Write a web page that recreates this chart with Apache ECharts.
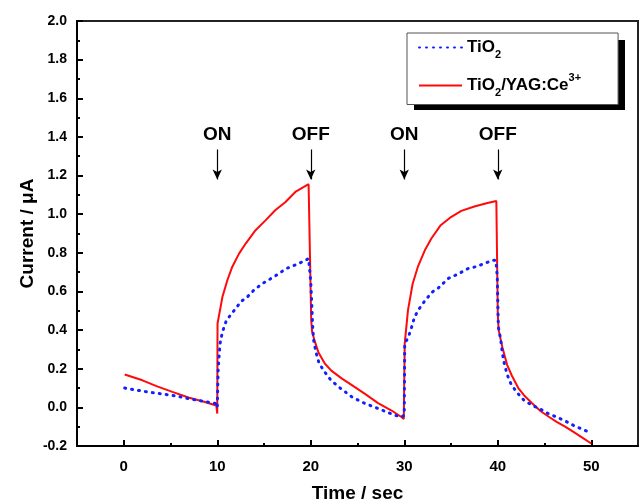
<!DOCTYPE html>
<html>
<head>
<meta charset="utf-8">
<script src="https://cdn.jsdelivr.net/npm/echarts@6/dist/echarts.min.js"></script>
<style>
  html, body { margin: 0; padding: 0; background: #fff; }
  #chart { width: 641px; height: 504px; }
</style>
</head>
<body>
<div id="chart"></div>
<script>
// TiO2 (blue dotted)
const timeTiO2 = [0.1, 2.5, 5.2, 7.5, 9.85, 10.0,
  10.1, 10.3, 10.55, 10.98, 11.6, 12.57, 13.2, 13.9, 14.8, 16.2, 17.36, 18.7, 19.77, 19.85,
  20.0, 20.1, 20.2, 20.3, 20.55, 20.9, 21.5, 22.1, 22.9, 24.4, 25.8, 27.2, 29.0, 29.7, 30.0,
  30.05, 30.4, 30.7, 31.1, 31.6, 32.3, 33.0, 33.65, 34.7, 35.7, 36.8, 37.8, 38.7, 39.4, 39.8,
  39.95, 40.06, 40.3, 40.5, 40.7, 41.0, 41.4, 42.0, 42.8, 43.7, 44.6, 45.5, 46.3, 47.2, 48.1, 48.9, 49.7];
const curTiO2 = [0.10, 0.08, 0.062, 0.04, 0.02, 0.0,
  0.2, 0.33, 0.39, 0.45, 0.489, 0.549, 0.571, 0.606, 0.64, 0.68, 0.718, 0.744, 0.77, 0.77,
  0.65, 0.546, 0.425, 0.35, 0.287, 0.227, 0.183, 0.144, 0.109, 0.054, 0.02, -0.006, -0.041, -0.05, -0.04,
  0.33, 0.36, 0.40, 0.468, 0.511, 0.558, 0.597, 0.618, 0.667, 0.689, 0.718, 0.73, 0.747, 0.761, 0.761,
  0.675, 0.416, 0.356, 0.278, 0.227, 0.17, 0.123, 0.08, 0.037, 0.01, -0.01, -0.035, -0.05, -0.07, -0.093, -0.11, -0.127];

// TiO2/YAG:Ce3+ (red solid)
const timeYag = [0.1, 2, 3.5, 5.2, 7, 8.5, 9.9, 10.0,
  10.03, 10.55, 11.08, 11.6, 12.33, 13.04, 14.1, 15.16, 16.2, 17.3, 18.35, 19.77, 19.9,
  20.05, 20.15, 20.4, 20.8, 21.5, 22.2, 23.3, 24.4, 25.8, 27.2, 28.6, 29.7, 29.95,
  30.05, 30.4, 30.9, 31.45, 32.2, 32.9, 33.9, 35.0, 36.1, 37.5, 38.9, 39.85,
  40.0, 40.1, 40.5, 41.0, 41.5, 42.2, 42.8, 43.7, 44.6, 45.5, 46.3, 47.2, 48.1, 49.0, 50.0];
const curYag = [0.17, 0.14, 0.11, 0.08, 0.05, 0.03, 0.01, -0.032,
  0.434, 0.571, 0.658, 0.727, 0.796, 0.848, 0.917, 0.968, 1.02, 1.063, 1.115, 1.155, 1.16,
  0.45, 0.39, 0.347, 0.287, 0.227, 0.19, 0.15, 0.115, 0.07, 0.022, -0.015, -0.05, -0.06,
  0.33, 0.503, 0.64, 0.727, 0.813, 0.874, 0.943, 0.985, 1.017, 1.04, 1.058, 1.068,
  0.486, 0.40, 0.31, 0.22, 0.165, 0.10, 0.063, 0.02, -0.02, -0.05, -0.075, -0.10, -0.127, -0.155, -0.187];

// ON / OFF arrows
const switchTimes = [10, 20, 30, 40];
const switchLabels = ['ON', 'OFF', 'ON', 'OFF'];
const arrowTop = 1.335;
const arrowTip = 1.18;

const xMajorTicks = [0, 10, 20, 30, 40, 50];
const xMinorTicks = [5, 15, 25, 35, 45];

function pairs(xs, ys) {
  return xs.map((x, i) => [x, ys[i]]);
}

const chart = echarts.init(document.getElementById('chart'));

const fontFamily = '"Liberation Sans", Arial, sans-serif';

const option = {
  backgroundColor: '#fff',
  animation: false,
  textStyle: { fontFamily: fontFamily },
  grid: {
    left: 77, top: 21, right: 3, bottom: 58,
    outerBoundsMode: 'none',
    show: true, borderColor: '#222', borderWidth: 2
  },
  // legend drop shadow
  graphic: [{
    type: 'rect', left: 414, top: 40, z: 1,
    shape: { width: 211, height: 70 },
    style: { fill: '#000' }
  }],
  legend: {
    orient: 'vertical',
    left: 407, top: 33, z: 5,
    padding: [6, 37, 6, 11],
    itemWidth: 43, itemHeight: 14, itemGap: 12,
    backgroundColor: '#fff',
    borderColor: '#555', borderWidth: 1, borderRadius: 0,
    itemStyle: { opacity: 0 },
    lineStyle: { opacity: 1 },
    data: ['TiO2', 'TiO2/YAG:Ce3+'],
    formatter: function (name) {
      if (name === 'TiO2') return '{b|TiO}{sub|2}';
      return '{b|TiO}{sub|2}{b|/YAG:Ce}{sup|3+}';
    },
    textStyle: {
      rich: {
        b: { fontSize: 17, fontWeight: 'bold', color: '#000', fontFamily: fontFamily, lineHeight: 26, verticalAlign: 'middle' },
        sub: { fontSize: 11, fontWeight: 'bold', color: '#000', fontFamily: fontFamily, lineHeight: 26, verticalAlign: 'bottom' },
        sup: { fontSize: 11, fontWeight: 'bold', color: '#000', fontFamily: fontFamily, lineHeight: 26, verticalAlign: 'top' }
      }
    }
  },
  xAxis: [
    {
      type: 'value', min: -5, max: 55, position: 'bottom',
      name: 'Time / sec', nameLocation: 'middle', nameGap: 38,
      nameTextStyle: { fontSize: 19, fontWeight: 'bold', color: '#000' },
      axisLine: { onZero: false, lineStyle: { color: '#000', width: 2 } },
      axisTick: { inside: true, length: 6, customValues: xMajorTicks, lineStyle: { color: '#000', width: 2 } },
      axisLabel: { customValues: xMajorTicks, fontSize: 15, fontWeight: 'bold', color: '#000', margin: 13 },
      splitLine: { show: false }
    },
    {
      type: 'value', min: -5, max: 55, position: 'bottom',
      axisLine: { show: false, onZero: false },
      axisTick: { inside: true, length: 3, customValues: xMinorTicks, lineStyle: { color: '#000', width: 2 } },
      axisLabel: { show: false },
      splitLine: { show: false }
    }
  ],
  yAxis: {
    type: 'value', min: -0.2, max: 2.0, interval: 0.2, position: 'left',
    name: 'Current / \u03bcA', nameLocation: 'middle', nameGap: 40, nameMoveOverlap: false,
    nameTextStyle: { fontSize: 19, fontWeight: 'bold', color: '#000' },
    axisLine: { show: true, onZero: false, lineStyle: { color: '#000', width: 2 } },
    axisTick: { inside: true, length: 6, lineStyle: { color: '#000', width: 2 } },
    minorTick: { show: true, splitNumber: 2, length: 3, lineStyle: { color: '#000', width: 2 } },
    axisLabel: {
      fontSize: 14, fontWeight: 'bold', color: '#000', margin: 10,
      formatter: v => v.toFixed(1)
    },
    splitLine: { show: false }
  },
  series: [
    {
      name: 'TiO2',
      type: 'line',
      data: pairs(timeTiO2, curTiO2),
      symbol: 'none',
      z: 3,
      color: '#1020ff',
      lineStyle: { color: '#1020ff', width: 3, type: [1, 6], cap: 'round' }
    },
    {
      name: 'TiO2/YAG:Ce3+',
      type: 'line',
      data: pairs(timeYag, curYag),
      symbol: 'none',
      z: 2,
      color: '#ff0a0a',
      lineStyle: { color: '#ff0a0a', width: 2 },
      markLine: {
        silent: true,
        symbol: ['none', 'arrow'],
        symbolSize: [7, 10],
        lineStyle: { color: '#000', width: 1.2, type: 'solid' },
        label: {
          show: true, position: 'start', distance: 5,
          fontSize: 19, fontWeight: 'bold', color: '#000',
          formatter: p => p.name
        },
        data: switchTimes.map((t, i) => [
          { name: switchLabels[i], coord: [t, arrowTop] },
          { coord: [t, arrowTip] }
        ])
      }
    }
  ]
};

chart.setOption(option);
</script>
</body>
</html>
